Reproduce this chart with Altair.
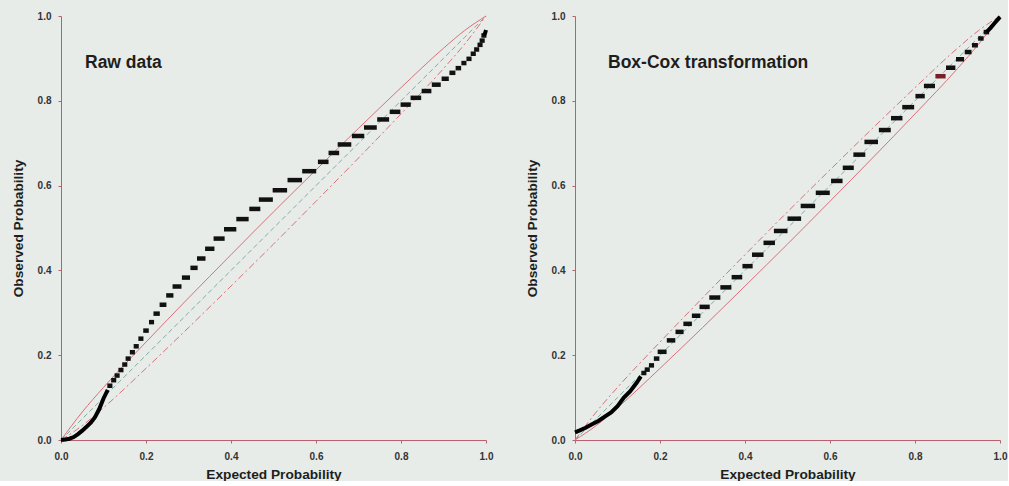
import altair as alt
import pandas as pd

# ---------------- data ----------------
TICKS = [0.0, 0.2, 0.4, 0.6, 0.8, 1.0]

# confidence band around the diagonal (same on both panels)
band_x = [0.0, 0.05, 0.1, 0.2, 0.3, 0.4, 0.5, 0.6, 0.7, 0.8, 0.9, 0.95, 1.0]
band_upper = [0.0, 0.066, 0.124, 0.231, 0.335, 0.437, 0.538, 0.637, 0.735, 0.831, 0.924, 0.966, 1.0]
band_lower = [0.0, 0.034, 0.076, 0.169, 0.265, 0.363, 0.462, 0.563, 0.665, 0.769, 0.876, 0.934, 1.0]

# Raw data panel
raw_curve_x = [0.0, 0.01, 0.02, 0.03, 0.04, 0.05, 0.06, 0.07, 0.08, 0.09, 0.10, 0.11]
raw_curve_y = [0.0, 0.001, 0.003, 0.007, 0.014, 0.022, 0.031, 0.041, 0.054, 0.073, 0.098, 0.118]
raw_step_x = [0.115, 0.124, 0.132, 0.141, 0.150, 0.158, 0.168, 0.177, 0.188, 0.200,
              0.213, 0.225, 0.240, 0.256, 0.273, 0.294, 0.313, 0.330, 0.350, 0.372,
              0.398, 0.427, 0.456, 0.482, 0.515, 0.550, 0.584, 0.617, 0.642, 0.667,
              0.699, 0.728, 0.758, 0.786, 0.811, 0.835, 0.860, 0.883, 0.904, 0.921,
              0.935, 0.948, 0.960, 0.970, 0.978, 0.986, 0.991, 0.995]
raw_step_y = [0.128, 0.141, 0.152, 0.165, 0.178, 0.192, 0.207, 0.221, 0.239, 0.258,
              0.278, 0.298, 0.319, 0.341, 0.362, 0.383, 0.406, 0.428, 0.451, 0.475,
              0.497, 0.521, 0.545, 0.567, 0.589, 0.613, 0.634, 0.656, 0.677, 0.697,
              0.717, 0.737, 0.756, 0.774, 0.791, 0.807, 0.823, 0.838, 0.852, 0.866,
              0.877, 0.889, 0.899, 0.911, 0.921, 0.932, 0.942, 0.954]
raw_tail_x = [0.995, 0.998, 1.0]
raw_tail_y = [0.954, 0.960, 0.967]

# Box-Cox panel
bc_curve_x = [0.0, 0.01, 0.025, 0.04, 0.055, 0.07, 0.085, 0.10, 0.115, 0.13, 0.145, 0.155]
bc_curve_y = [0.018, 0.022, 0.029, 0.037, 0.045, 0.055, 0.065, 0.080, 0.100, 0.115, 0.135, 0.150]
bc_step_x = [0.162, 0.170, 0.180, 0.192, 0.205, 0.226, 0.246, 0.265, 0.285, 0.305,
             0.329, 0.355, 0.381, 0.406, 0.430, 0.457, 0.484, 0.516, 0.548, 0.583,
             0.616, 0.643, 0.669, 0.697, 0.729, 0.757, 0.784, 0.812, 0.834, 0.860,
             0.884, 0.906, 0.925, 0.941, 0.955, 0.968]
bc_step_y = [0.158, 0.166, 0.176, 0.192, 0.208, 0.235, 0.255, 0.274, 0.293, 0.314,
             0.336, 0.360, 0.384, 0.410, 0.437, 0.465, 0.493, 0.522, 0.552, 0.583,
             0.611, 0.642, 0.673, 0.703, 0.731, 0.759, 0.785, 0.811, 0.835, 0.858,
             0.878, 0.898, 0.915, 0.931, 0.947, 0.962]
bc_highlight_y = 0.858
bc_tail_x = [0.968, 0.978, 0.987, 0.994, 1.0]
bc_tail_y = [0.962, 0.972, 0.983, 0.991, 0.998]

# ---------------- styling ----------------
BG = "#e7ece8"
AXIS_RED = "#b8606e"
BAND_RED = "#d9707a"
MID = "#86aaa0"
FONT = "Liberation Sans"
W, H = 425, 424


def steps_frame(xs, ys):
    rows = []
    for i, (x, y) in enumerate(zip(xs, ys)):
        if i + 1 < len(xs):
            gap = xs[i + 1] - x
        else:
            gap = x - xs[i - 1]
        hw = max(0.006, min(0.017, 0.5 * gap))
        rows.append({"x0": x - hw, "x1": x + hw, "y": y})
    return pd.DataFrame(rows)


def panel(title, curve_x, curve_y, step_x, step_y, tail_x, tail_y,
          upper_dash, lower_dash, title_x, highlight=None):
    xs = alt.Scale(domain=[0, 1], nice=False, zero=False)
    ys = alt.Scale(domain=[0, 1], nice=False, zero=False)
    xaxis = alt.Axis(values=TICKS, format=".1f", title="Expected Probability",
                     grid=False, domainColor=AXIS_RED, tickColor=AXIS_RED,
                     tickSize=3, labelFlush=False, labelFont=FONT,
                     labelFontSize=10, labelFontWeight="bold", labelColor="#333333",
                     labelPadding=8, titleFont=FONT, titleFontSize=13.7,
                     titleFontWeight="bold", titleColor="#1e1e1e", titlePadding=6)
    yaxis = alt.Axis(values=TICKS, format=".1f", title="Observed Probability",
                     grid=False, domainColor=AXIS_RED, tickColor=AXIS_RED,
                     tickSize=3, labelFlush=False, labelFont=FONT,
                     labelFontSize=10, labelFontWeight="bold", labelColor="#333333",
                     labelPadding=7, titleFont=FONT, titleFontSize=13.7,
                     titleFontWeight="bold", titleColor="#1e1e1e", titlePadding=12)

    band = pd.DataFrame({"x": band_x, "up": band_upper, "lo": band_lower})
    base_band = alt.Chart(band)
    mid_line = base_band.mark_line(color=MID, strokeWidth=1, strokeDash=[5, 3]).encode(
        x=alt.X("x:Q", scale=xs, axis=xaxis), y=alt.Y("x:Q", scale=ys, axis=yaxis))
    up_kw = {"strokeDash": upper_dash} if upper_dash else {}
    lo_kw = {"strokeDash": lower_dash} if lower_dash else {}
    up_line = base_band.mark_line(color=BAND_RED, strokeWidth=1, interpolate="monotone", **up_kw).encode(
        x=alt.X("x:Q", scale=xs), y=alt.Y("up:Q", scale=ys))
    lo_line = base_band.mark_line(color=BAND_RED, strokeWidth=1, interpolate="monotone", **lo_kw).encode(
        x=alt.X("x:Q", scale=xs), y=alt.Y("lo:Q", scale=ys))

    curve = alt.Chart(pd.DataFrame({"x": curve_x, "y": curve_y})).mark_line(
        color="black", strokeWidth=4).encode(x=alt.X("x:Q", scale=xs), y=alt.Y("y:Q", scale=ys))
    tail = alt.Chart(pd.DataFrame({"x": tail_x, "y": tail_y})).mark_line(
        color="black", strokeWidth=4).encode(x=alt.X("x:Q", scale=xs), y=alt.Y("y:Q", scale=ys))

    sf = steps_frame(step_x, step_y)
    sf["hl"] = sf["y"].apply(lambda v: "h" if highlight is not None and abs(v - highlight) < 1e-9 else "n")
    steps = alt.Chart(sf).mark_rule(strokeWidth=4.5, strokeCap="butt").encode(
        x=alt.X("x0:Q", scale=xs), x2="x1:Q", y=alt.Y("y:Q", scale=ys),
        color=alt.Color("hl:N", scale=alt.Scale(domain=["n", "h"], range=["#111111", "#7a1f25"]),
                        legend=None))

    label = alt.Chart(pd.DataFrame({"t": [title]})).mark_text(
        align="left", baseline="alphabetic", font=FONT, fontSize=17.5,
        fontWeight="bold", color="#1e1e1e").encode(
        text="t:N", x=alt.value(title_x), y=alt.value(52))

    return alt.layer(mid_line, up_line, lo_line, curve, steps, tail, label).properties(
        width=W, height=H)


left = panel("Raw data", raw_curve_x, raw_curve_y, raw_step_x, raw_step_y,
             raw_tail_x, raw_tail_y, None, [7, 3, 2, 3], 24)
right = panel("Box-Cox transformation", bc_curve_x, bc_curve_y, bc_step_x, bc_step_y,
              bc_tail_x, bc_tail_y, [7, 3, 2, 3], None, 33, highlight=bc_highlight_y)

chart = alt.hconcat(left, right, spacing=31).properties(
    padding={"left": 11, "top": 8, "right": 0, "bottom": 0},
    background=BG,
).configure_view(strokeWidth=0)

chart.save("out.html", embed_options={"renderer": "svg", "actions": False})
